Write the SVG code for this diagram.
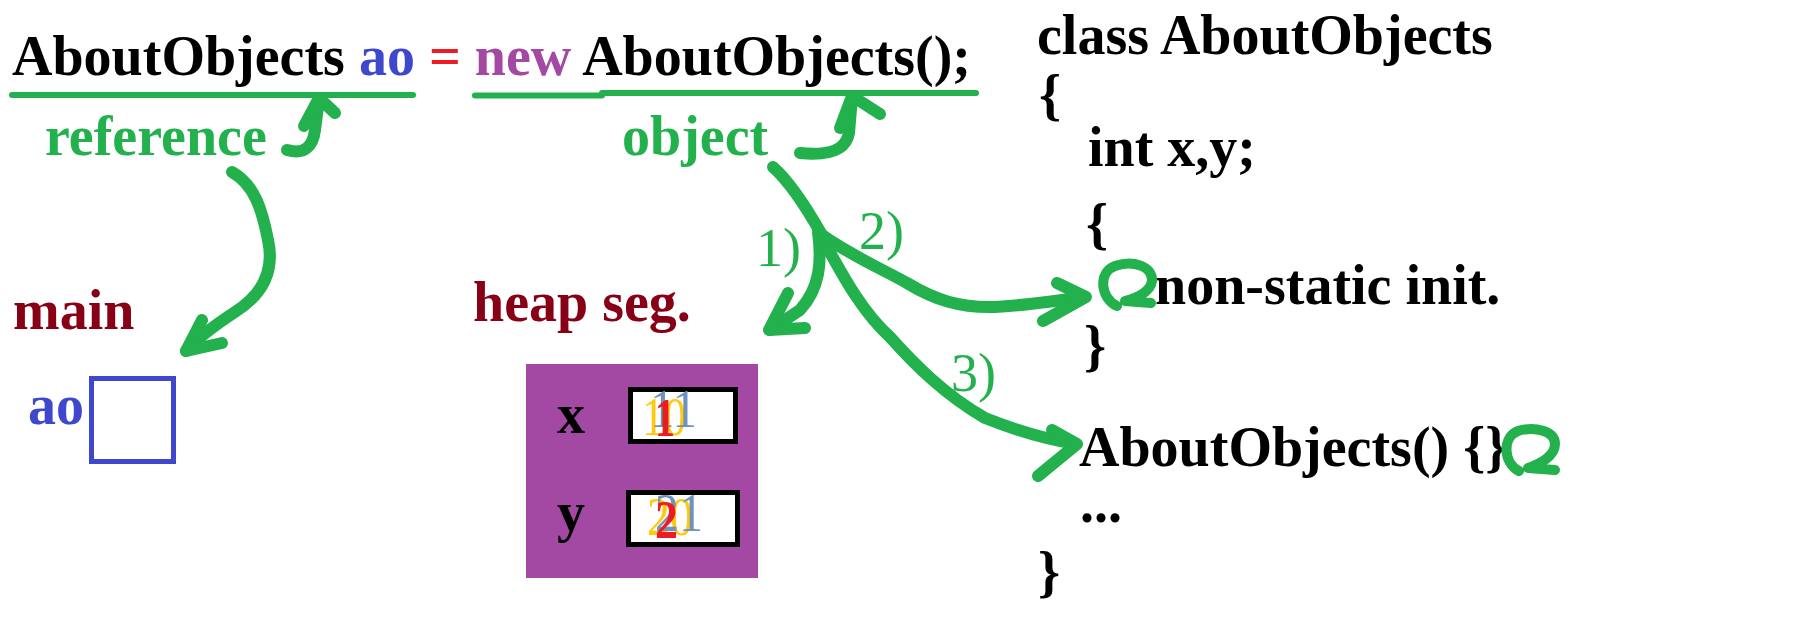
<svg xmlns="http://www.w3.org/2000/svg" width="1800" height="620" viewBox="0 0 1800 620">
<style>
  text { font-family: "Liberation Serif", "Times New Roman", serif; }
  .b { font-weight: bold; font-size: 56px; }
  .blk { fill: #000000; }
  .grn { fill: #22B14C; }
  .dred { fill: #880015; }
  .blue { fill: #3F48CC; }
  .num { font-size: 54px; font-weight: normal; }
  .val { font-size: 54px; }
  .pen { fill: none; stroke: #22B14C; stroke-width: 12; stroke-linecap: round; stroke-linejoin: round; }
  .line { fill: none; stroke: #22B14C; stroke-width: 6; stroke-linecap: round; }
  .scr { fill: none; stroke: #22B14C; stroke-width: 10; stroke-linecap: round; stroke-linejoin: round; }
</style>
<rect x="0" y="0" width="1800" height="620" fill="#FFFFFF"/>

<g id="statement">
  <text x="12" y="75" class="b blk">AboutObjects <tspan fill="#3F48CC">ao</tspan> <tspan fill="#ED1C24">=</tspan> <tspan fill="#A349A4">new</tspan> AboutObjects();</text>
</g>

<g id="reference-label">
  <text x="45" y="155" class="b grn">reference</text>
</g>

<g id="object-label">
  <text x="622" y="155" class="b grn">object</text>
</g>

<g id="main-frame">
  <text x="13" y="329" class="b dred">main</text>
  <text x="28" y="424" class="b blue">ao</text>
  <rect x="91.5" y="378.5" width="82" height="83" fill="#FFFFFF" stroke="#3F48CC" stroke-width="5"/>
</g>

<g id="heap">
  <text x="473" y="321" class="b dred">heap seg.</text>
  <rect x="526" y="364" width="232" height="214" fill="#A349A4"/>
  <text x="557" y="433" class="b blk" font-size="52">x</text>
  <text x="557" y="531" class="b blk" font-size="52">y</text>
  <rect x="630.5" y="389.5" width="105" height="52" fill="#FFFFFF" stroke="#000000" stroke-width="5"/>
  <rect x="628.5" y="492.5" width="109" height="52" fill="#FFFFFF" stroke="#000000" stroke-width="5"/>
  <text x="642" y="435" class="val" fill="#FFC90E" textLength="44" lengthAdjust="spacingAndGlyphs">10</text>
  <text x="650" y="427" class="val" fill="#7092BE" textLength="47" lengthAdjust="spacingAndGlyphs">11</text>
  <text x="655" y="436" class="val" fill="#ED1C24" font-weight="bold" textLength="20" lengthAdjust="spacingAndGlyphs">1</text>
  <text x="647" y="535" class="val" fill="#FFC90E" textLength="46" lengthAdjust="spacingAndGlyphs">20</text>
  <text x="655" y="531" class="val" fill="#7092BE" textLength="48" lengthAdjust="spacingAndGlyphs">21</text>
  <text x="655" y="538" class="val" fill="#ED1C24" font-weight="bold" textLength="23" lengthAdjust="spacingAndGlyphs">2</text>
</g>

<g id="class-code">
  <text x="1037" y="54" class="b blk">class AboutObjects</text>
  <text x="1039" y="114" class="b blk">{</text>
  <text x="1088" y="166" class="b blk">int x,y;</text>
  <text x="1086" y="243" class="b blk">{</text>
  <text x="1155" y="304" class="b blk">non-static init.</text>
  <text x="1084" y="365" class="b blk">}</text>
  <text x="1079" y="466" class="b blk">AboutObjects() {}</text>
  <text x="1080" y="522" class="b blk">...</text>
  <text x="1038" y="591" class="b blk">}</text>
</g>

<g id="step-labels">
  <text x="756" y="266" class="num grn">1)</text>
  <text x="859" y="249" class="num grn">2)</text>
  <text x="951" y="391" class="num grn">3)</text>
</g>

<g id="connectors">
  <line x1="12" y1="95" x2="413" y2="95" class="line"/>
  <path d="M475,95.5 L602,95.5 M602,93 L976,93" class="line"/>
  <!-- hook arrow reference -> ao -->
  <path d="M287,150 C305,155 313,146 315,130 L319,99" class="pen"/>
  <path d="M304,126 L319,98 L335,113" class="pen"/>
  <!-- hook arrow object -> new AboutObjects() -->
  <path d="M800,153 C830,156 846,150 849,133 L852,97" class="pen"/>
  <path d="M840,128 L852,96 L880,114" class="pen"/>
  <!-- reference -> main ao -->
  <path d="M232,172 C255,185 262,210 268,240 C275,272 262,295 235,312 C215,325 198,338 186,351" class="pen"/>
  <path d="M202,320 L186,351 L222,343" class="pen"/>
  <!-- object stem -->
  <path d="M773,167 C790,182 805,205 822,235" class="pen"/>
  <!-- 1) to heap -->
  <path d="M818,232 C822,262 820,288 800,310 L770,330" class="pen"/>
  <path d="M788,293 L769,330 L805,328" class="pen"/>
  <!-- 2) to non-static init -->
  <path d="M822,235 C850,255 880,268 907,283 C935,300 960,308 995,307 C1030,305 1060,300 1085,297" class="pen"/>
  <path d="M1057,283 L1086,297 L1043,321" class="pen"/>
  <!-- 3) to constructor -->
  <path d="M822,238 C840,270 860,310 890,337 C915,365 945,395 985,418 C1020,432 1050,440 1076,444" class="pen"/>
  <path d="M1052,430 L1077,444 L1038,476" class="pen"/>
  <!-- scribbles -->
  <path d="M1117,306 C1100,298 1098,272 1115,266 C1133,260 1153,266 1152,281 C1150,293 1136,298 1125,301 L1151,303" class="scr"/>
  <path d="M1519,471 C1503,463 1502,437 1518,431 C1535,426 1555,431 1555,444 C1555,456 1540,464 1528,468 L1555,470" class="scr"/>
</g>
</svg>
